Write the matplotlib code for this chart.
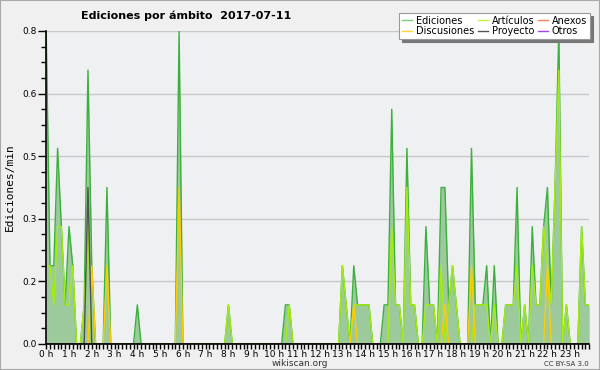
import matplotlib
matplotlib.use("Agg")
import matplotlib.pyplot as plt
from matplotlib.lines import Line2D
from matplotlib.patches import Rectangle
from matplotlib.ticker import MultipleLocator, FixedLocator, FormatStrFormatter
import numpy as np

# edits per minute, 10-minute bins (6 per hour, one row per hour)
ediciones = [
    0.8, 0.2, 0.2, 0.5, 0.3, 0.1,   # 0 h
    0.3, 0.2, 0.0, 0.0, 0.1, 0.7,   # 1 h
    0.2, 0.0, 0.0, 0.0, 0.4, 0.0,   # 2 h
    0.0, 0.0, 0.0, 0.0, 0.0, 0.0,   # 3 h
    0.1, 0.0, 0.0, 0.0, 0.0, 0.0,   # 4 h
    0.0, 0.0, 0.0, 0.0, 0.0, 0.8,   # 5 h
    0.0, 0.0, 0.0, 0.0, 0.0, 0.0,   # 6 h
    0.0, 0.0, 0.0, 0.0, 0.0, 0.0,   # 7 h
    0.1, 0.0, 0.0, 0.0, 0.0, 0.0,   # 8 h
    0.0, 0.0, 0.0, 0.0, 0.0, 0.0,   # 9 h
    0.0, 0.0, 0.0, 0.1, 0.1, 0.0,   # 10 h
    0.0, 0.0, 0.0, 0.0, 0.0, 0.0,   # 11 h
    0.0, 0.0, 0.0, 0.0, 0.0, 0.0,   # 12 h
    0.2, 0.1, 0.0, 0.2, 0.1, 0.1,   # 13 h
    0.1, 0.1, 0.0, 0.0, 0.0, 0.1,   # 14 h
    0.1, 0.6, 0.1, 0.1, 0.0, 0.5,   # 15 h
    0.1, 0.1, 0.0, 0.0, 0.3, 0.1,   # 16 h
    0.1, 0.0, 0.4, 0.4, 0.1, 0.2,   # 17 h
    0.1, 0.0, 0.0, 0.0, 0.5, 0.1,   # 18 h
    0.1, 0.1, 0.2, 0.0, 0.2, 0.0,   # 19 h
    0.0, 0.1, 0.1, 0.1, 0.4, 0.0,   # 20 h
    0.1, 0.0, 0.3, 0.1, 0.1, 0.3,   # 21 h
    0.4, 0.1, 0.4, 0.8, 0.0, 0.1,   # 22 h
    0.0, 0.0, 0.0, 0.3, 0.1, 0.1,   # 23 h
]
articulos = [
    0.2, 0.2, 0.1, 0.3, 0.3, 0.1,
    0.1, 0.2, 0.0, 0.0, 0.1, 0.3,
    0.0, 0.0, 0.0, 0.0, 0.0, 0.0,
    0.0, 0.0, 0.0, 0.0, 0.0, 0.0,
    0.0, 0.0, 0.0, 0.0, 0.0, 0.0,
    0.0, 0.0, 0.0, 0.0, 0.0, 0.0,
    0.0, 0.0, 0.0, 0.0, 0.0, 0.0,
    0.0, 0.0, 0.0, 0.0, 0.0, 0.0,
    0.1, 0.0, 0.0, 0.0, 0.0, 0.0,
    0.0, 0.0, 0.0, 0.0, 0.0, 0.0,
    0.0, 0.0, 0.0, 0.0, 0.1, 0.0,
    0.0, 0.0, 0.0, 0.0, 0.0, 0.0,
    0.0, 0.0, 0.0, 0.0, 0.0, 0.0,
    0.2, 0.1, 0.0, 0.1, 0.1, 0.1,
    0.1, 0.1, 0.0, 0.0, 0.0, 0.0,
    0.0, 0.3, 0.1, 0.1, 0.0, 0.4,
    0.1, 0.1, 0.0, 0.0, 0.1, 0.1,
    0.1, 0.0, 0.2, 0.0, 0.1, 0.2,
    0.1, 0.0, 0.0, 0.0, 0.0, 0.1,
    0.1, 0.1, 0.1, 0.0, 0.1, 0.0,
    0.0, 0.1, 0.1, 0.1, 0.2, 0.0,
    0.1, 0.0, 0.2, 0.1, 0.1, 0.3,
    0.2, 0.1, 0.4, 0.7, 0.0, 0.1,
    0.0, 0.0, 0.0, 0.3, 0.1, 0.1,
]
discusiones = [0.0] * 144
for i, v in [(12, 0.2), (16, 0.2), (35, 0.4), (81, 0.1), (105, 0.1), (112, 0.2), (132, 0.2)]:
    discusiones[i] = v
proyecto = [0.0] * 144
proyecto[11] = 0.4
anexos = [0.0] * 144
otros = [0.0] * 144

hours = np.arange(len(ediciones)) / 6.0
hour_labels = [f"{h} h" for h in range(24)]
ytick_vals = [0.0, 0.16, 0.32, 0.48, 0.64, 0.8]

plt.rcParams["font.family"] = "DejaVu Sans"

fig = plt.figure(figsize=(6, 3.7), dpi=100, facecolor="#f0f0f0")
ax = fig.add_axes([0.077, 0.0703, 0.905, 0.846])
ax.set_facecolor("#eef0f2")

ax.fill_between(hours, ediciones, 0, color="#9dca9d", lw=0, zorder=2)
ax.plot(hours, ediciones, color="#3cb03c", lw=1.0, zorder=3)
ax.plot(hours, anexos, color="#ff7f50", lw=1.0, zorder=3)
ax.plot(hours, otros, color="#9b3cf0", lw=1.0, zorder=3)
ax.plot(hours, articulos, color="#a6ec10", lw=1.0, zorder=4)
ax.plot(hours, discusiones, color="#ffcc00", lw=1.0, zorder=4)
ax.plot(hours, proyecto, color="#505050", lw=1.0, zorder=4)

ax.set_xlim(0, hours[-1])
ax.set_ylim(0, 0.8)
ax.xaxis.set_major_locator(FixedLocator(range(24)))
ax.set_xticklabels(hour_labels)
ax.xaxis.set_minor_locator(MultipleLocator(1 / 6))
ax.yaxis.set_major_locator(FixedLocator(ytick_vals))
ax.yaxis.set_minor_locator(MultipleLocator(0.04))
ax.yaxis.set_major_formatter(FormatStrFormatter("%.1f"))

ax.tick_params(axis="both", which="both", direction="out", color="black",
               length=3.5, width=1, labelsize=6.5, pad=0.5)
ax.tick_params(axis="y", which="major", length=6, pad=1)
ax.grid(axis="y", which="major", color="#c8c8c8", lw=1, zorder=1)
ax.set_axisbelow(True)

for s in ["top", "right"]:
    ax.spines[s].set_visible(False)
for s in ["left", "bottom"]:
    ax.spines[s].set_linewidth(1.2)
    ax.spines[s].set_zorder(6)

ax.set_ylabel("Ediciones/min", fontsize=8, family="DejaVu Sans Mono", labelpad=5)

fig.text(0.31, 0.958, "Ediciones por ámbito  2017-07-11", fontsize=8,
         fontweight="bold", ha="center", va="center")
fig.text(0.5, 0.017, "wikiscan.org", fontsize=6.5, ha="center", va="center", color="#333")
fig.text(0.982, 0.017, "CC BY-SA 3.0", fontsize=5, ha="right", va="center", color="#333")

handles = [
    Line2D([], [], color="#7ccc7c", lw=1, label="Ediciones"),
    Line2D([], [], color="#ffd040", lw=1, label="Discusiones"),
    Line2D([], [], color="#c4f040", lw=1, label="Artículos"),
    Line2D([], [], color="#555555", lw=1, label="Proyecto"),
    Line2D([], [], color="#ff8050", lw=1, label="Anexos"),
    Line2D([], [], color="#a040f0", lw=1, label="Otros"),
]
leg = fig.legend(handles=handles, ncol=3, loc="upper right",
                 bbox_to_anchor=(0.983, 0.965), borderaxespad=0, fontsize=7,
                 frameon=True, fancybox=False,
                 shadow={"color": "#777777", "alpha": 1},
                 handlelength=1.0, handletextpad=0.4, columnspacing=0.4,
                 labelspacing=0.05, borderpad=0.3)
leg.get_frame().set_edgecolor("#999999")
leg.get_frame().set_linewidth(0.8)
leg.set_zorder(10)

fig.patches.append(Rectangle((0, 0), 1, 1, transform=fig.transFigure,
                             fill=False, edgecolor="#a8a8a8", lw=1.5))

fig.savefig("out.png", dpi=100, facecolor=fig.get_facecolor())
